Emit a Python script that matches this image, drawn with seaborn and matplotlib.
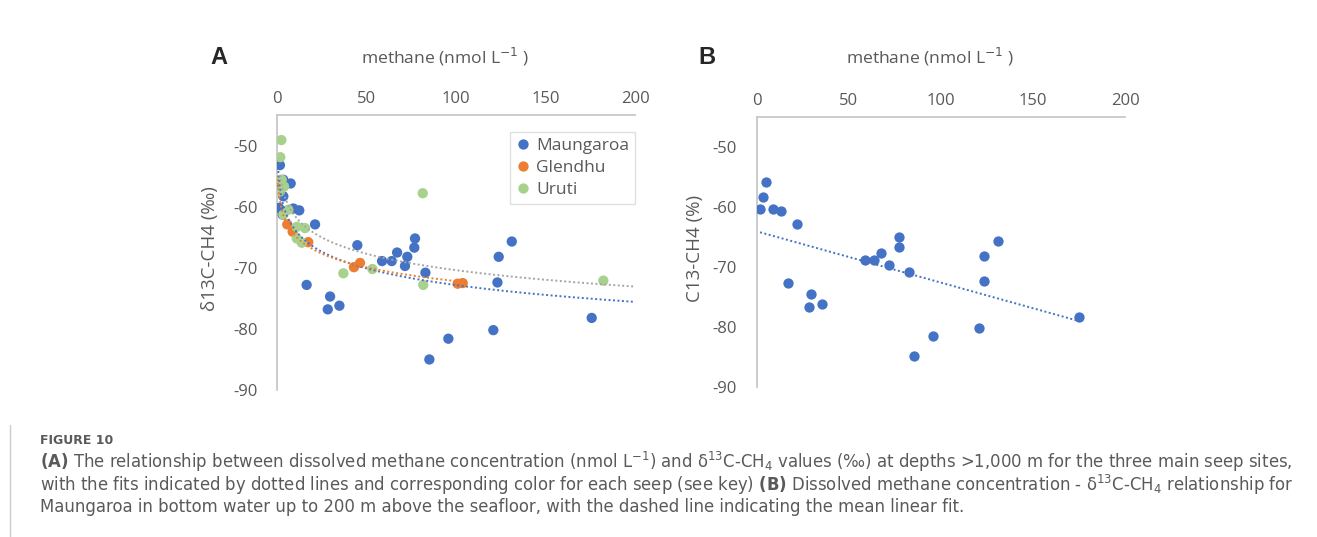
import numpy as np
import pandas as pd
import matplotlib
matplotlib.use("Agg")
import matplotlib.pyplot as plt
import seaborn as sns

# === Data ===
# panel A: methane (nmol/L) vs d13C-CH4 (permil), three seep sites
maung_a_x = [1.8, 3.7, 7.8, 0.9, 3.7, 1.3, 3.3, 9.3, 12.6, 21.4, 16.7, 29.8, 28.5, 35.0, 45.0,
             58.8, 64.2, 67.2, 71.6, 72.9, 76.8, 77.2, 83.0, 85.2, 95.8, 120.9, 123.2, 123.9,
             131.2, 175.8]
maung_a_y = [-53.2, -55.6, -56.2, -57.0, -58.3, -60.2, -61.3, -60.3, -60.6, -62.9, -72.8, -74.7,
             -76.8, -76.2, -66.3, -68.9, -68.9, -67.5, -69.7, -68.2, -66.7, -65.2, -70.8, -85.0,
             -81.6, -80.2, -72.4, -68.2, -65.7, -78.2]
glen_x = [0.6, 5.9, 8.9, 17.6, 43.1, 46.5, 101.0, 103.8]
glen_y = [-55.8, -62.9, -64.1, -65.8, -69.9, -69.2, -72.6, -72.5]
uruti_x = [2.6, 2.0, 2.8, 4.1, 1.8, 6.5, 3.7, 11.2, 15.8, 11.2, 14.0, 37.2, 53.4, 81.5, 81.8, 182.3]
uruti_y = [-49.1, -51.9, -55.6, -56.7, -57.5, -60.5, -61.3, -63.3, -63.5, -65.2, -65.9, -70.9,
           -70.2, -57.8, -72.8, -72.1]

# panel B: Maungaroa bottom water
maung_b_x = [1.8, 3.6, 4.9, 9.0, 13.0, 21.7, 16.8, 29.7, 28.6, 35.3, 58.8, 63.9, 67.3, 72.0,
             77.3, 77.1, 82.5, 85.3, 95.7, 120.7, 123.3, 123.6, 130.9, 175.2]
maung_b_y = [-60.4, -58.3, -55.8, -60.4, -60.7, -62.8, -72.7, -74.6, -76.7, -76.2, -68.9, -68.9,
             -67.6, -69.7, -65.05, -66.6, -70.8, -84.9, -81.6, -80.2, -72.3, -68.2, -65.6, -78.3]

sites = ["Maungaroa", "Glendhu", "Uruti"]
x_ticks = [0, 50, 100, 150, 200]
y_ticks = [-90, -80, -70, -60, -50]

colors = {"Maungaroa": "#4472C4", "Glendhu": "#ED7D31", "Uruti": "#A9D18E"}
fit_colors = {"Maungaroa": "#4472C4", "Glendhu": "#ED7D31", "Uruti": "#A5A5A5"}
fit_end = {"Maungaroa": 200, "Glendhu": None, "Uruti": 200}

df_a = pd.concat([
    pd.DataFrame({"methane": maung_a_x, "d13c": maung_a_y, "site": "Maungaroa"}),
    pd.DataFrame({"methane": glen_x, "d13c": glen_y, "site": "Glendhu"}),
    pd.DataFrame({"methane": uruti_x, "d13c": uruti_y, "site": "Uruti"}),
], ignore_index=True)
df_b = pd.DataFrame({"methane": maung_b_x, "d13c": maung_b_y})

# === Style ===
sns.set_style("white")
plt.rcParams["font.family"] = ["Open Sans", "DejaVu Sans"]
plt.rcParams["axes.unicode_minus"] = False
plt.rcParams["mathtext.fontset"] = "dejavusans"

TXT = "#595959"
AXC = "#C8C8C8"

fig = plt.figure(figsize=(13.17, 5.37), dpi=100)
ax_a = fig.add_axes([0.2101, 0.2737, 0.2721, 0.5121])
ax_b = fig.add_axes([0.5746, 0.2799, 0.2797, 0.5017])


def style_axis(ax, ylabel, ylab_x, xlab_y, ypad):
    ax.set_xlim(0, 200)
    ax.set_ylim(-90, -45)
    ax.set_xticks(x_ticks)
    ax.set_yticks(y_ticks)
    ax.xaxis.tick_top()
    ax.xaxis.set_label_position("top")
    for side in ["bottom", "right"]:
        ax.spines[side].set_visible(False)
    for side in ["top", "left"]:
        ax.spines[side].set_color(AXC)
        ax.spines[side].set_linewidth(1.3)
    ax.tick_params(axis="x", length=0, labelsize=12, labelcolor=TXT, pad=6)
    ax.tick_params(axis="y", length=0, labelsize=12, labelcolor=TXT, pad=ypad)
    ax.set_xlabel("methane (nmol L$^{-1}$ )", fontsize=12.6, color=TXT)
    ax.xaxis.set_label_coords(0.47, xlab_y)
    ax.xaxis.label.set_verticalalignment("center")
    ax.set_ylabel(ylabel, fontsize=13.5, color=TXT)
    ax.yaxis.set_label_coords(ylab_x, 0.515)
    ax.yaxis.label.set_verticalalignment("center")


# === Panel A ===
sns.scatterplot(data=df_a, x="methane", y="d13c", hue="site", hue_order=sites,
                palette=colors, s=55, linewidth=0, ax=ax_a, zorder=3)
for site in sites:
    sub = df_a[df_a["site"] == site]
    a, b = np.polyfit(np.log(sub["methane"]), sub["d13c"], 1)
    end = fit_end[site] or sub["methane"].max()
    grid = np.geomspace(sub["methane"].min(), end, 300)
    ax_a.plot(grid, a * np.log(grid) + b, color=fit_colors[site], lw=1.4,
              ls=(0, (1, 1.3)), zorder=4)

style_axis(ax_a, "δ13C-CH4 (‰)", -0.186, 1.211, 13.5)
sns.move_legend(ax_a, "upper right", bbox_to_anchor=(1.0, 0.94), title=None,
                frameon=True, fontsize=12.5, labelcolor=TXT, borderaxespad=0,
                handlelength=0.8, handletextpad=0.35, labelspacing=0.35, borderpad=0.35,
                edgecolor="#D9D9D9", fancybox=False, markerscale=1.0)

# === Panel B ===
sns.regplot(data=df_b, x="methane", y="d13c", ci=None, ax=ax_b, color=colors["Maungaroa"],
            scatter_kws=dict(s=55, linewidths=0, alpha=1, zorder=3),
            line_kws=dict(lw=1.4, ls=(0, (1, 1.3)), zorder=4))
style_axis(ax_b, "C13-CH4 (%)", -0.168, 1.224, 14.5)

# panel letters
fig.text(219 / 1317, 1 - 57 / 537, "A", fontsize=17, fontweight="bold",
         family="Liberation Sans", ha="center", va="center")
fig.text(707 / 1317, 1 - 57 / 537, "B", fontsize=17, fontweight="bold",
         family="Liberation Sans", ha="center", va="center")

# === Caption ===
CAP = "#5A5A5A"
fig.add_artist(plt.Line2D([10 / 1317, 10 / 1317], [0, 1 - 425 / 537], color="#CCCCCC", lw=1))
fig.text(40 / 1317, 1 - 441 / 537, "FIGURE 10", fontsize=9, fontweight="bold",
         family="DejaVu Sans", color=CAP, va="center")
caption = [
    r"$\mathbf{(A)}$ The relationship between dissolved methane concentration (nmol L$^{-1}$) "
    r"and δ$^{13}$C-CH$_4$ values (‰) at depths >1,000 m for the three main seep sites,",
    r"with the fits indicated by dotted lines and corresponding color for each seep (see key) "
    r"$\mathbf{(B)}$ Dissolved methane concentration - δ$^{13}$C-CH$_4$ relationship for",
    "Maungaroa in bottom water up to 200 m above the seafloor, with the dashed line "
    "indicating the mean linear fit.",
]
for i, line in enumerate(caption):
    fig.text(40 / 1317, 1 - (462 + 22.5 * i) / 537, line, fontsize=11.9, color=CAP,
             family="DejaVu Sans", va="center")

plt.savefig("out.png", dpi=100)
